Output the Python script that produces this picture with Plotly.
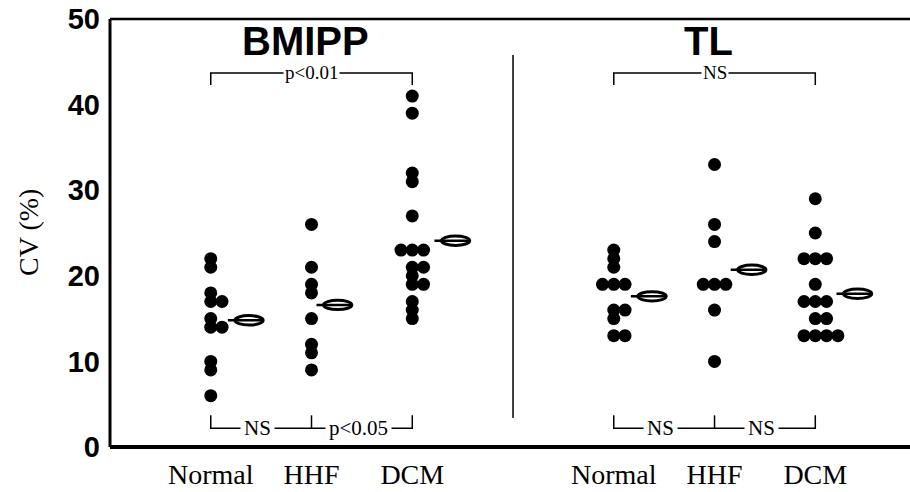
import numpy as np
from collections import Counter
import plotly.graph_objects as go

# ---------------- data ----------------
groups = ["Normal", "HHF", "DCM"]
bmipp_normal = [22, 21, 18, 17, 17, 15, 14, 14, 10, 9, 6]
bmipp_hhf = [26, 21, 19, 18, 15, 12, 11, 9]
bmipp_dcm = [41, 39, 32, 31, 27, 23, 23, 23, 21, 21, 20, 19, 19, 17, 16, 15]
tl_normal = [23, 22, 21, 19, 19, 19, 16, 16, 15, 13, 13]
tl_hhf = [33, 26, 24, 19, 19, 19, 16, 10]
tl_dcm = [29, 25, 22, 22, 22, 19, 17, 17, 17, 15, 15, 13, 13, 13, 13]
bmipp_means = [14.8, 16.6, 24.1]
tl_means = [17.6, 20.7, 17.9]
y_ticks = [0, 10, 20, 30, 40, 50]
panel_titles = ["BMIPP", "TL"]
top_labels = ["p<0.01", "NS"]
bottom_labels = [["NS", "p<0.05"], ["NS", "NS"]]

# ---------------- layout constants ----------------
xpos = [1, 2, 3, 5, 6, 7]
mean_dx = [0.38, 0.26, 0.43, 0.38, 0.37, 0.42]
dot_dx = 0.112
series = [bmipp_normal, bmipp_hhf, bmipp_dcm, tl_normal, tl_hhf, tl_dcm]
means = bmipp_means + tl_means

SANS = "Liberation Sans, Arial, sans-serif"
SERIF = "Liberation Serif, Times New Roman, serif"

fig = go.Figure()

for vals, xc in zip(series, xpos):
    xs, ys = [], []
    for v, n in Counter(vals).items():
        offs = np.arange(n) - (n - 1) // 2
        for o in offs:
            xs.append(xc + o * dot_dx)
            ys.append(v)
    fig.add_trace(go.Scatter(x=xs, y=ys, mode="markers",
                             marker=dict(size=13, color="black"),
                             showlegend=False, hoverinfo="skip"))

shapes = []
# mean markers
for xc, dx, m in zip(xpos, mean_dx, means):
    xm = xc + dx
    shapes.append(dict(type="circle", xref="x", yref="y",
                       x0=xm - 0.14, x1=xm + 0.14, y0=m - 0.55, y1=m + 0.55,
                       line=dict(color="black", width=3), fillcolor="white"))
    shapes.append(dict(type="line", xref="x", yref="y",
                       x0=xm - 0.21, x1=xm + 0.14, y0=m, y1=m,
                       line=dict(color="black", width=2.5)))

# frame
shapes.append(dict(type="line", xref="paper", yref="paper", x0=0, x1=0, y0=0, y1=1,
                   line=dict(color="black", width=3)))
shapes.append(dict(type="line", xref="paper", yref="paper", x0=0, x1=1, y0=1, y1=1,
                   line=dict(color="black", width=2.5)))
shapes.append(dict(type="line", xref="paper", yref="paper", x0=0, x1=1, y0=0, y1=0,
                   line=dict(color="black", width=4)))

# separator
shapes.append(dict(type="line", xref="x", yref="y", x0=4, x1=4, y0=3.4, y1=45.8,
                   line=dict(color="black", width=1.5)))

annotations = []
ytop, ytop_tick = 43.7, 42.3
ybot, ybot_tick = 2.2, 3.7
for p in range(2):
    a, b, c = xpos[3 * p], xpos[3 * p + 1], xpos[3 * p + 2]
    # top bracket
    shapes.append(dict(type="path", xref="x", yref="y",
                       path=f"M {a},{ytop_tick} L {a},{ytop} L {c},{ytop} L {c},{ytop_tick}",
                       line=dict(color="black", width=1.5)))
    annotations.append(dict(x=(a + c) / 2, y=ytop, xref="x", yref="y", text=top_labels[p],
                            showarrow=False, bgcolor="white", borderpad=1,
                            font=dict(family=SERIF, size=19, color="black")))
    # bottom bracket
    shapes.append(dict(type="path", xref="x", yref="y",
                       path=f"M {a},{ybot_tick} L {a},{ybot} L {c},{ybot} L {c},{ybot_tick}",
                       line=dict(color="black", width=1.5)))
    shapes.append(dict(type="line", xref="x", yref="y", x0=b, x1=b, y0=ybot, y1=ybot_tick,
                       line=dict(color="black", width=1.5)))
    annotations.append(dict(x=(a + b) / 2 - 0.04, y=ybot, xref="x", yref="y",
                            text=bottom_labels[p][0], showarrow=False, bgcolor="white",
                            borderpad=3, font=dict(family=SERIF, size=21, color="black")))
    annotations.append(dict(x=(b + c) / 2 - 0.03, y=ybot, xref="x", yref="y",
                            text=bottom_labels[p][1], showarrow=False, bgcolor="white",
                            borderpad=3, font=dict(family=SERIF, size=21, color="black")))
    # panel titles
    annotations.append(dict(x=(a + c) / 2 - 0.06, y=47.4, xref="x", yref="y",
                            text=panel_titles[p], showarrow=False,
                            font=dict(family=SANS, size=40, color="black", weight="bold")))

annotations.append(dict(x=-0.1025, y=25, xref="paper", yref="y", text="CV (%)",
                        textangle=-90, showarrow=False, xanchor="center", yanchor="middle",
                        font=dict(family=SERIF, size=28, color="black")))

fig.update_layout(
    width=910, height=492,
    margin=dict(l=110, r=0, t=19, b=45),
    paper_bgcolor="white", plot_bgcolor="white",
    shapes=shapes, annotations=annotations,
    xaxis=dict(range=[0, 7.94], showgrid=False, zeroline=False, showline=False,
               automargin=False, ticklabelstandoff=8, ticklabeloverflow="allow",
               tickmode="array", tickvals=xpos, ticktext=groups * 2, ticks="",
               tickfont=dict(family=SERIF, size=28, color="black")),
    yaxis=dict(range=[0, 50], showgrid=False, zeroline=False, showline=False,
               automargin=False, ticklabelstandoff=9, ticklabeloverflow="allow",
               tickmode="array", tickvals=y_ticks, ticks="",
               tickfont=dict(family=SANS, size=29, color="black", weight="bold")),
)

fig.write_html("out.html", config={"displayModeBar": False},
               post_script="document.body.style.margin='0';document.body.style.overflow='hidden';")
